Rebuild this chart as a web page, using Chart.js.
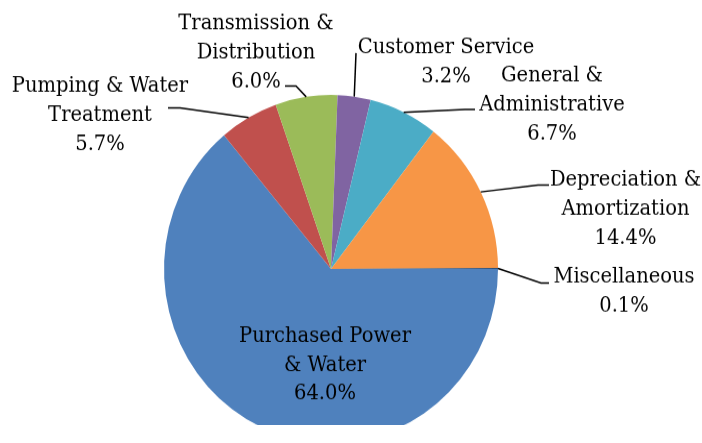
<!DOCTYPE html>
<html>
<head>
<meta charset="utf-8">
<script src="https://cdn.jsdelivr.net/npm/chart.js@4.4.1/dist/chart.umd.min.js"></script>
<style>
    html, body { margin: 0; padding: 0; background: #fff; }
    #wrap { width: 702px; height: 425px; transform: scaleY(1.0424); transform-origin: 0 0; }
</style>
</head>
<body>
<div id="wrap"><canvas id="pieChart" width="702" height="425"></canvas></div>
<script>
const categories = [
    ['Purchased Power', '& Water'],
    ['Pumping & Water', 'Treatment'],
    ['Transmission &', 'Distribution'],
    ['Customer Service'],
    ['General &', 'Administrative'],
    ['Depreciation &', 'Amortization'],
    ['Miscellaneous']
];
const shares = [64.0, 5.7, 6.0, 3.2, 6.7, 14.4, 0.1];
const colors = ['#4F81BD', '#C0504D', '#9BBB59', '#8064A2', '#4BACC6', '#F79646', '#2C4D75'];

// label layout, in picture pixels: centre x, first baseline, leader elbow and end
const SY = 425 / 443;
const labelPos = [
    { x: 325, y: 341.7 },
    { x: 100, y: 91.7, elbow: [180, 108], end: [168, 108] },
    { x: 256, y: 29.3, elbow: [296, 86], end: [285, 86] },
    { x: 446, y: 53.3, end: [356, 53] },
    { x: 552, y: 81.7, elbow: [465, 109.5], end: [475, 109.5] },
    { x: 625.5, y: 186, elbow: [538, 185], end: [549, 185] },
    { x: 624, y: 282.7, elbow: [541, 283], end: [549, 283] }
];

const pieLabels = {
    id: 'pieLabels',
    afterDraw(chart) {
        const ctx = chart.ctx;
        const arcs = chart.getDatasetMeta(0).data;
        ctx.save();
        ctx.fillStyle = '#000';
        ctx.strokeStyle = '#000';
        ctx.lineWidth = 1.5;
        ctx.font = '19.5px "DejaVu Serif"';
        ctx.textAlign = 'center';
        ctx.textBaseline = 'alphabetic';
        arcs.forEach((arc, i) => {
            const pos = labelPos[i];
            if (pos.end) {
                const mid = (arc.startAngle + arc.endAngle) / 2;
                ctx.beginPath();
                ctx.moveTo(arc.x + Math.cos(mid) * arc.outerRadius, arc.y + Math.sin(mid) * arc.outerRadius);
                if (pos.elbow) ctx.lineTo(pos.elbow[0], pos.elbow[1] * SY);
                ctx.lineTo(pos.end[0], pos.end[1] * SY);
                ctx.stroke();
            }
            const lines = categories[i].concat([shares[i].toFixed(1) + '%']);
            lines.forEach((t, k) => {
                ctx.fillText(t, pos.x, (pos.y + k * 29) * SY);
            });
        });
        ctx.restore();
    }
};

new Chart(document.getElementById('pieChart'), {
    type: 'pie',
    data: {
        labels: categories,
        datasets: [{
            data: shares,
            backgroundColor: colors,
            borderWidth: 0
        }]
    },
    options: {
        responsive: false,
        animation: false,
        rotation: 90,
        layout: { padding: { left: 164, right: 204, top: 91, bottom: 0 } },
        plugins: {
            legend: { display: false },
            tooltip: { enabled: false }
        }
    },
    plugins: [pieLabels]
});
</script>
</body>
</html>
